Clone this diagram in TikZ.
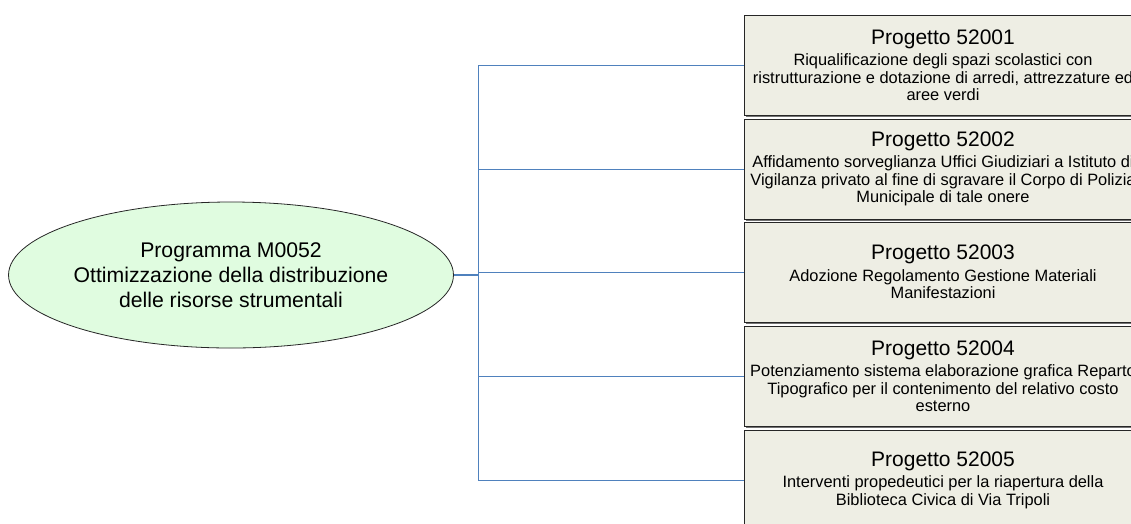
\documentclass[tikz,border=0pt]{standalone}
\usepackage{fontspec}
\setmainfont{Liberation Sans}
\usetikzlibrary{shapes.geometric,shadows}
\definecolor{conn}{RGB}{79,129,189}
\definecolor{boxfill}{RGB}{238,238,228}
\definecolor{ellfill}{RGB}{224,252,224}
\tikzset{
  progbox/.style={rectangle, draw=black!85, line width=0.9pt, fill=boxfill,
    minimum width=398pt, minimum height=100pt, inner sep=0pt, align=center,
    font=\fontsize{16.4}{17.5}\selectfont,
    drop shadow={shadow xshift=1.5pt, shadow yshift=-1.8pt, fill=black!55, opacity=1}},
  mainell/.style={ellipse, draw=black!85, line width=0.8pt, fill=ellfill,
    minimum width=438pt, minimum height=146pt, inner sep=0pt, align=center,
    font=\fontsize{21.2}{25}\selectfont},
  link/.style={draw=conn, line width=1pt},
  mainlink/.style={draw=conn, line width=2pt}
}
\newcommand{\ttl}[1]{{\fontsize{21}{22}\selectfont #1}\\[4pt]}
\begin{document}
\begin{tikzpicture}[x=1pt,y=-1pt]
\useasboundingbox (0,0) rectangle (1131,523);
\clip (0,0) rectangle (1131,523);
\fill[white] (0,0) rectangle (1131,523);

\node[mainell] (prog) at (231,275) {Programma M0052\\Ottimizzazione della distribuzione\\delle risorse strumentali};

\node[progbox] (p1) at (943,65) {\ttl{Progetto 52001}Riqualificazione degli spazi scolastici con\\ristrutturazione e dotazione di arredi, attrezzature ed\\aree verdi};
\node[progbox] (p2) at (943,169) {\ttl{Progetto 52002}Affidamento sorveglianza Uffici Giudiziari a Istituto di\\Vigilanza privato al fine di sgravare il Corpo di Polizia\\Municipale di tale onere};
\node[progbox] (p3) at (943,272) {\ttl{Progetto 52003}Adozione Regolamento Gestione Materiali\\Manifestazioni};
\node[progbox] (p4) at (943,376) {\ttl{Progetto 52004}Potenziamento sistema elaborazione grafica Reparto\\Tipografico per il contenimento del relativo costo\\esterno};
\node[progbox] (p5) at (943,480) {\ttl{Progetto 52005}Interventi propedeutici per la riapertura della\\Biblioteca Civica di Via Tripoli};

\coordinate (j) at (478,275);
\draw[mainlink] (prog.east) -- (j);
\draw[link] (j) |- (p1.west);
\draw[link] (j) |- (p2.west);
\draw[link] (j) |- (p3.west);
\draw[link] (j) |- (p4.west);
\draw[link] (j) |- (p5.west);
\end{tikzpicture}
\end{document}
